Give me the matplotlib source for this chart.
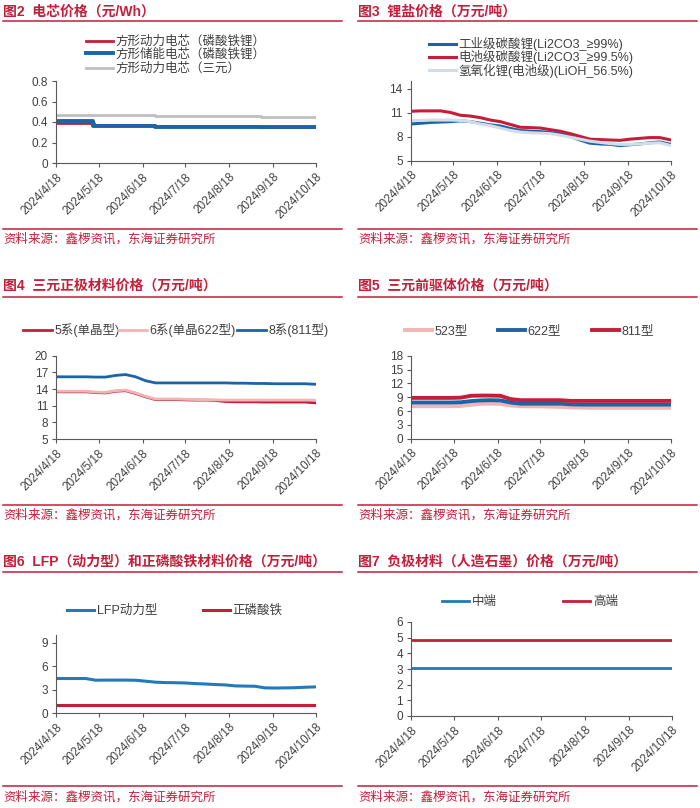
import matplotlib
matplotlib.use('Agg')
import matplotlib.pyplot as plt
from matplotlib.lines import Line2D
import pandas as pd

plt.rcParams['font.family'] = ['Liberation Sans', 'Noto Sans CJK SC', 'DejaVu Sans']

# ---------------- DATA ----------------
tick_dates = ['2024-04-18', '2024-05-18', '2024-06-18', '2024-07-18',
              '2024-08-18', '2024-09-18', '2024-10-18']
tick_labels = ['2024/4/18', '2024/5/18', '2024/6/18', '2024/7/18',
               '2024/8/18', '2024/9/18', '2024/10/18']

weeks = ['2024-04-18', '2024-04-25', '2024-05-02', '2024-05-09', '2024-05-16',
         '2024-05-23', '2024-05-30', '2024-06-06', '2024-06-13', '2024-06-20',
         '2024-06-27', '2024-07-04', '2024-07-11', '2024-07-18', '2024-07-25',
         '2024-08-01', '2024-08-08', '2024-08-15', '2024-08-22', '2024-08-29',
         '2024-09-05', '2024-09-12', '2024-09-19', '2024-09-26', '2024-10-03',
         '2024-10-10', '2024-10-18']

titles = ['图2  电芯价格（元/Wh）', '图3  锂盐价格（万元/吨）',
          '图4  三元正极材料价格（万元/吨）', '图5  三元前驱体价格（万元/吨）',
          '图6  LFP（动力型）和正磷酸铁材料价格（万元/吨）',
          '图7  负极材料（人造石墨）价格（万元/吨）']
source = '资料来源：鑫椤资讯，东海证券研究所'

# Fig2 cell prices (step changes)
cell_lfp_dates = ['2024-04-18', '2024-05-15', '2024-06-27', '2024-09-08', '2024-10-18']
cell_lfp_vals = [0.386, 0.374, 0.362, 0.350, 0.350]
cell_ess_dates = ['2024-04-18', '2024-05-14', '2024-06-27', '2024-10-18']
cell_ess_vals = [0.413, 0.362, 0.347, 0.347]
cell_ncm_dates = ['2024-04-18', '2024-06-27', '2024-09-09', '2024-10-18']
cell_ncm_vals = [0.470, 0.455, 0.447, 0.447]
cell_labels = ['方形动力电芯（磷酸铁锂）', '方形储能电芯（磷酸铁锂）', '方形动力电芯（三元）']

# Fig3 lithium salts
li_ind = [9.6, 9.7, 9.8, 9.85, 9.9, 10.0, 9.9, 9.7, 9.5, 9.35, 9.05, 8.8, 8.7, 8.65,
          8.55, 8.4, 8.05, 7.6, 7.2, 7.1, 7.05, 6.9, 7.0, 7.1, 7.25, 7.35, 7.05]
li_bat = [11.2, 11.25, 11.25, 11.25, 11.05, 10.7, 10.6, 10.4, 10.1, 9.9, 9.55, 9.2,
          9.15, 9.1, 8.9, 8.7, 8.4, 8.05, 7.7, 7.65, 7.6, 7.55, 7.7, 7.8, 7.9, 7.9, 7.6]
li_oh = [10.05, 10.05, 10.1, 10.1, 10.1, 10.05, 9.9, 9.6, 9.4, 9.1, 8.8, 8.6, 8.5,
         8.45, 8.4, 8.2, 7.95, 7.7, 7.45, 7.3, 7.15, 7.05, 7.05, 7.1, 7.2, 7.25, 6.9]
li_labels = ['工业级碳酸锂(Li2CO3_≥99%)', '电池级碳酸锂(Li2CO3_≥99.5%)',
             '氢氧化锂(电池级)(LiOH_56.5%)']

# Fig4 NCM cathode
ncm5 = [13.5, 13.5, 13.5, 13.5, 13.35, 13.3, 13.6, 13.7, 13.2, 12.6, 12.1, 12.1, 12.1,
        12.05, 12.0, 12.0, 11.95, 11.75, 11.7, 11.7, 11.7, 11.65, 11.65, 11.65, 11.65,
        11.65, 11.5]
ncm6 = [13.6, 13.6, 13.6, 13.6, 13.45, 13.4, 13.7, 13.8, 13.3, 12.7, 12.2, 12.2, 12.2,
        12.15, 12.1, 12.05, 12.05, 12.0, 12.0, 12.0, 12.0, 12.0, 12.0, 12.0, 12.0,
        12.0, 12.0]
ncm8 = [16.2, 16.2, 16.2, 16.2, 16.15, 16.15, 16.45, 16.6, 16.2, 15.5, 15.1, 15.1,
        15.1, 15.1, 15.1, 15.1, 15.1, 15.1, 15.05, 15.05, 15.0, 15.0, 14.95, 14.95,
        14.95, 14.95, 14.85]
ncm_labels = ['5系(单晶型)', '6系(单晶622型)', '8系(811型)']

# Fig5 precursors
pre523 = [7.05, 7.05, 7.05, 7.05, 7.05, 7.1, 7.35, 7.55, 7.6, 7.55, 7.2, 7.05, 7.0,
          7.0, 6.95, 6.9, 6.8, 6.75, 6.7, 6.7, 6.7, 6.7, 6.7, 6.7, 6.7, 6.7, 6.7]
pre622 = [7.85, 7.85, 7.85, 7.85, 7.85, 7.9, 8.15, 8.3, 8.35, 8.3, 7.85, 7.6, 7.6,
          7.6, 7.6, 7.6, 7.45, 7.4, 7.4, 7.4, 7.4, 7.4, 7.4, 7.4, 7.4, 7.4, 7.4]
pre811 = [8.85, 8.85, 8.85, 8.85, 8.85, 8.9, 9.3, 9.35, 9.35, 9.3, 8.6, 8.35, 8.35,
          8.35, 8.35, 8.35, 8.2, 8.2, 8.2, 8.2, 8.2, 8.2, 8.2, 8.2, 8.2, 8.2, 8.2]
pre_labels = ['523型', '622型', '811型']

# Fig6 LFP and iron phosphate
lfp = [4.42, 4.42, 4.42, 4.42, 4.2, 4.22, 4.22, 4.22, 4.2, 4.08, 3.95, 3.9, 3.88,
       3.85, 3.77, 3.72, 3.65, 3.6, 3.48, 3.45, 3.43, 3.22, 3.2, 3.22, 3.24, 3.3, 3.35]
fepo4_dates = ['2024-04-18', '2024-10-18']
fepo4 = [1.05, 1.05]
lfp_labels = ['LFP动力型', '正磷酸铁']

# Fig7 anode graphite
anode_dates = ['2024-04-18', '2024-10-18']
anode_mid = [3.05, 3.05]
anode_high = [4.85, 4.85]
anode_labels = ['中端', '高端']

# ---------------- STYLE ----------------
RED = '#C41E3A'
BLUE = '#1C64A8'
BLUE2 = '#2479BA'
GRAY = '#BFBFBF'
LIGHT = '#D3DDE8'
PINK = '#F2B4B4'
AXC = '#595959'
TXC = '#404040'
W, H = 700, 808

fig = plt.figure(figsize=(7, 8.08), dpi=100)


def rect(l, t, r, b):
    return [l / W, 1 - b / H, (r - l) / W, (b - t) / H]


def fx(x):
    return x / W


def fy(y):
    return 1 - y / H


def D(lst):
    return pd.to_datetime(lst)


def style_axes(ax, ylim, yticks, yfmt):
    ax.set_xlim(D(['2024-04-18'])[0], D(['2024-10-18'])[0])
    ax.set_ylim(*ylim)
    ax.set_yticks(yticks)
    ax.set_yticklabels([yfmt.format(v) for v in yticks])
    ax.set_xticks(D(tick_dates))
    ax.set_xticklabels(tick_labels, rotation=45, ha='right', rotation_mode='anchor')
    for s in ['top', 'right']:
        ax.spines[s].set_visible(False)
    for s in ['left', 'bottom']:
        ax.spines[s].set_color(AXC)
        ax.spines[s].set_linewidth(0.8)
    ax.tick_params(axis='both', direction='out', length=2.8, width=0.8, color=AXC,
                   labelcolor=TXC, labelsize=8.5)
    ax.tick_params(axis='x', pad=3)
    ax.tick_params(axis='y', pad=3)
    ax.patch.set_alpha(0)


def leg(line, label, x, y, hl_px, fs=9):
    fpx = fs * 100 / 72
    lg = fig.legend([line], [label], loc='center left', bbox_to_anchor=(fx(x), fy(y)),
                    frameon=False, borderpad=0, borderaxespad=0,
                    handlelength=hl_px / fpx, handletextpad=0.22, fontsize=fs,
                    labelcolor=TXC)
    return lg


def frame(x0, x1, ty, ly, sly, sy):
    fig.text(fx(x0), fy(ty), '', fontsize=1)
    fig.add_artist(Line2D([fx(x0), fx(x1)], [fy(ly), fy(ly)], color=RED, lw=1.1,
                          transform=fig.transFigure))
    fig.add_artist(Line2D([fx(x0), fx(x1)], [fy(sly), fy(sly)], color=RED, lw=1.1,
                          transform=fig.transFigure))
    fig.text(fx(x0), fy(sy), source, fontsize=9, color=RED, va='center', ha='left')


# panel frames: (x0, x1, title y, title line y, source line y, source text y)
frames = [(3, 342, 12, 21, 229, 239), (358, 697, 12, 21, 229, 239),
          (3, 342, 285.5, 297, 505, 515), (358, 697, 285.5, 297, 505, 515),
          (3, 342, 562, 572, 786, 797), (358, 697, 562, 572, 786, 797)]
for i, (x0, x1, ty, ly, sly, sy) in enumerate(frames):
    frame(x0, x1, ty, ly, sly, sy)
    fig.text(fx(x0), fy(ty), titles[i], fontsize=10, fontweight='bold', color=RED,
             va='center', ha='left')

# ---- Fig2 ----
ax1 = fig.add_axes(rect(56, 81, 316, 163))
l1, = ax1.plot(D(cell_lfp_dates), cell_lfp_vals, drawstyle='steps-post', color=RED, lw=2.0)
l2, = ax1.plot(D(cell_ess_dates), cell_ess_vals, drawstyle='steps-post', color=BLUE, lw=2.8)
l3, = ax1.plot(D(cell_ncm_dates), cell_ncm_vals, drawstyle='steps-post', color=GRAY, lw=2.0)
style_axes(ax1, (0, 0.8), [0, 0.2, 0.4, 0.6, 0.8], '{:g}')
for ln, lab, y in zip([l1, l2, l3], cell_labels, [42, 54.5, 69]):
    leg(ln, lab, 86, y, 27)

# ---- Fig3 ----
ax2 = fig.add_axes(rect(410.7, 81, 671, 160.7))
m1, = ax2.plot(D(weeks), li_ind, color=BLUE, lw=2.2)
m2, = ax2.plot(D(weeks), li_bat, color=RED, lw=2.2)
m3, = ax2.plot(D(weeks), li_oh, color=LIGHT, lw=2.2)
style_axes(ax2, (5, 15), [5, 8, 11, 14], '{:g}')
for ln, lab, y in zip([m1, m2, m3], li_labels, [44, 57.3, 70.7]):
    leg(ln, lab, 429, y, 27)

# ---- Fig4 ----
ax3 = fig.add_axes(rect(56, 355.7, 316, 439))
n1, = ax3.plot(D(weeks), ncm5, color=RED, lw=2.0)
n2, = ax3.plot(D(weeks), ncm6, color=PINK, lw=2.0)
n3, = ax3.plot(D(weeks), ncm8, color=BLUE, lw=2.0)
style_axes(ax3, (5, 20), [5, 8, 11, 14, 17, 20], '{:g}')
for ln, lab, x in zip([n1, n2, n3], ncm_labels, [23, 118, 237]):
    leg(ln, lab, x, 330, 29)

# ---- Fig5 ----
ax4 = fig.add_axes(rect(411, 355.7, 671, 438.7))
p1, = ax4.plot(D(weeks), pre523, color=PINK, lw=2.8)
p2, = ax4.plot(D(weeks), pre622, color=BLUE, lw=2.8)
p3, = ax4.plot(D(weeks), pre811, color=RED, lw=2.8)
style_axes(ax4, (0, 18), [0, 3, 6, 9, 12, 15, 18], '{:g}')
for ln, lab, x in zip([p1, p2, p3], pre_labels, [405, 498, 592]):
    leg(ln, lab, x, 331, 27)

# ---- Fig6 ----
ax5 = fig.add_axes(rect(56, 635, 316, 713))
q1, = ax5.plot(D(weeks), lfp, color=BLUE2, lw=2.2)
q2, = ax5.plot(D(fepo4_dates), fepo4, color=RED, lw=2.2)
style_axes(ax5, (0, 10), [0, 3, 6, 9], '{:g}')
for ln, lab, x in zip([q1, q2], lfp_labels, [67, 203]):
    leg(ln, lab, x, 611, 27)

# ---- Fig7 ----
ax6 = fig.add_axes(rect(411, 622, 671.7, 716))
r1, = ax6.plot(D(anode_dates), anode_mid, color=BLUE2, lw=2.0)
r2, = ax6.plot(D(anode_dates), anode_high, color=RED, lw=2.0)
style_axes(ax6, (0, 6), [0, 1, 2, 3, 4, 5, 6], '{:g}')
for ln, lab, x in zip([r1, r2], anode_labels, [442, 563]):
    leg(ln, lab, x, 602, 27)

fig.savefig('out.png', dpi=100, facecolor='white')
